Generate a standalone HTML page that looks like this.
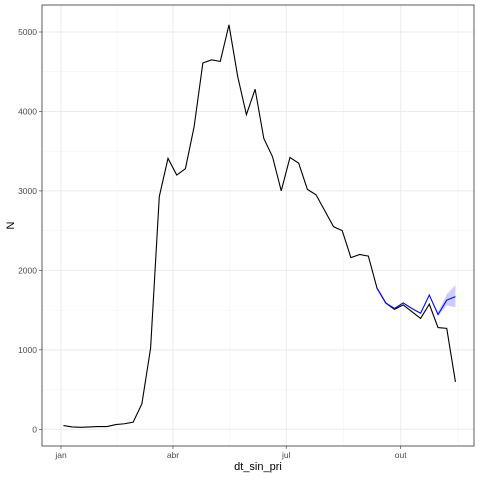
<!DOCTYPE html>
<html><head><meta charset="utf-8"><style>body{margin:0;background:#fff}svg{font-family:"Liberation Sans",sans-serif}</style></head>
<body>
<svg id="c" width="480" height="480" xmlns="http://www.w3.org/2000/svg"></svg>
<script>
const obsValues=[47,30,25,30,35,35,60,70,90,320,1020,2930,3410,3200,3280,3810,4610,4650,4630,5090,4440,3960,4280,3660,3430,3000,3420,3350,3020,2950,2750,2550,2500,2160,2200,2180,1775,1590,1510,1565,1480,1395,1575,1280,1270,597];
const predStart=36;
const predValues=[1775,1590,1520,1590,1520,1460,1690,1445,1625,1670];
const predLower=[1775,1590,1520,1590,1520,1460,1690,1420,1560,1535];
const predUpper=[1775,1590,1520,1590,1520,1460,1690,1470,1700,1815];
const yTicks=[0,1000,2000,3000,4000,5000];
const xTickLabels=["jan","abr","jul","out"];
const xTickDays=[0,90,181,273];
const firstDay=2, stepDays=7;

const svg=document.getElementById('c');const NS='http://www.w3.org/2000/svg';
const L=42,R=474,T=5,B=446;
const xs=d=>61+d*1.2443;
const ys=v=>429.3-v*0.07946;
function mk(t,a,p){const e=document.createElementNS(NS,t);for(const k in a)e.setAttribute(k,a[k]);(p||svg).appendChild(e);return e;}
const bg=mk('rect',{x:L,y:T,width:R-L,height:B-T,fill:'#fff'});


// minor grid
for(let i=0;i<yTicks.length;i++){const v=yTicks[i]+500;const y=ys(v);if(y>T){const l=mk('line',{x1:L,x2:R,y1:y,y2:y,stroke:'#f2f2f2','stroke-width':0.5});}}
for(let i=0;i<xTickDays.length;i++){const d=i<xTickDays.length-1?(xTickDays[i]+xTickDays[i+1])/2:xTickDays[i]+46;const x=xs(d);if(x<R){const l=mk('line',{x1:x,x2:x,y1:T,y2:B,stroke:'#f2f2f2','stroke-width':0.5});}}
// major grid + labels
yTicks.forEach(v=>{const y=ys(v);
const l=mk('line',{x1:L,x2:R,y1:y,y2:y,stroke:'#ebebeb','stroke-width':1});
const tk=mk('line',{x1:L-3,x2:L,y1:y,y2:y,stroke:'#333','stroke-width':0.6});
const t=mk('text',{x:L-5,y:y+3,'text-anchor':'end','font-size':8.5,fill:'#4d4d4d'});t.textContent=v;});
xTickDays.forEach((d,i)=>{const x=xs(d);
const l=mk('line',{x1:x,x2:x,y1:T,y2:B,stroke:'#ebebeb','stroke-width':1});
const tk=mk('line',{x1:x,x2:x,y1:B,y2:B+3,stroke:'#333','stroke-width':0.6});
const t=mk('text',{x:x,y:B+12,'text-anchor':'middle','font-size':8.5,fill:'#4d4d4d'});t.textContent=xTickLabels[i];});
// band
let up=[],lo=[];
predValues.forEach((v,i)=>{const x=xs(firstDay+(predStart+i)*stepDays);up.push(x+','+ys(predUpper[i]));lo.unshift(x+','+ys(predLower[i]));});
const band=mk('polygon',{points:up.concat(lo).join(' '),fill:'#0000ff','fill-opacity':0.2,stroke:'none'});


const obs=mk('polyline',{points:obsValues.map((v,i)=>xs(firstDay+i*stepDays)+','+ys(v)).join(' '),fill:'none',stroke:'#000','stroke-width':1.1});


const pred=mk('polyline',{points:predValues.map((v,i)=>xs(firstDay+(predStart+i)*stepDays)+','+ys(v)).join(' '),fill:'none',stroke:'#0000ff','stroke-width':1.1});


const br=mk('rect',{x:L,y:T,width:R-L,height:B-T,fill:'none',stroke:'#333','stroke-width':0.8});


const xt=mk('text',{x:(L+R)/2,y:470,'text-anchor':'middle','font-size':11,fill:'#000'});xt.textContent='dt_sin_pri';


const yt=mk('text',{x:0,y:0,'text-anchor':'middle','font-size':11,fill:'#000',transform:'translate(14,'+((T+B)/2)+') rotate(-90)'});yt.textContent='N';


</script>
</body></html>
